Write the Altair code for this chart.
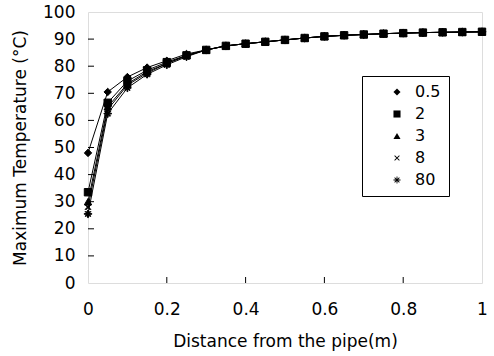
import altair as alt
import pandas as pd

distance = [0, 0.05, 0.1, 0.15, 0.2, 0.25, 0.3, 0.35, 0.4, 0.45, 0.5,
            0.55, 0.6, 0.65, 0.7, 0.75, 0.8, 0.85, 0.9, 0.95, 1.0]
tail = [86.0, 87.5, 88.3, 89.0, 89.7, 90.4, 91.0, 91.4, 91.7, 92.0,
        92.2, 92.4, 92.5, 92.6, 92.7]
t_05 = [48.0, 70.5, 76.0, 79.5, 82.0, 84.5] + tail
t_2 = [33.5, 66.5, 74.5, 78.5, 81.5, 84.0] + tail
t_3 = [30.0, 65.0, 73.5, 78.0, 81.0, 84.0] + tail
t_8 = [28.0, 64.0, 73.0, 77.5, 81.0, 83.8] + tail
t_80 = [25.5, 62.5, 72.0, 77.0, 80.5, 83.5] + tail

series_names = ["0.5", "2", "3", "8", "80"]
series_vals = [t_05, t_2, t_3, t_8, t_80]

x_labels = [0, 0.2, 0.4, 0.6, 0.8, 1]
y_labels = [0, 10, 20, 30, 40, 50, 60, 70, 80, 90, 100]
x_ticks = [0.2, 0.4, 0.6, 0.8]
y_ticks = [10, 20, 30, 40, 50, 60, 70, 80, 90]

rows = []
for name, vals in zip(series_names, series_vals):
    for d, v in zip(distance, vals):
        rows.append({"series": name, "distance": d, "temp": v})
df = pd.DataFrame(rows)

W, H = 394, 271
FONT = "DejaVu Sans"
FS = 17

X_SHAPE = ("M-0.6,-0.76L0.76,0.6L0.6,0.76L-0.76,-0.6Z"
           "M0.76,-0.6L-0.6,0.76L-0.76,0.6L0.6,-0.76Z")
STAR_SHAPE = ("M-1,-0.12L1,-0.12L1,0.12L-1,0.12Z"
              "M0.12,-1L0.12,1L-0.12,1L-0.12,-1Z"
              "M-0.6,-0.76L0.76,0.6L0.6,0.76L-0.76,-0.6Z"
              "M0.76,-0.6L-0.6,0.76L-0.76,0.6L0.6,-0.76Z")
shapes = ["diamond", "square", "triangle-up", X_SHAPE, STAR_SHAPE]

x_axis = alt.Axis(title="Distance from the pipe(m)", values=x_labels,
                  format="~g", grid=False, ticks=False, domain=False,
                  labelPadding=18, titlePadding=16, labelFontSize=FS,
                  titleFontSize=FS, titleFontWeight="normal",
                  labelFont=FONT, titleFont=FONT, labelColor="black",
                  titleColor="black", labelFlush=False, labelOverlap=False)
y_axis = alt.Axis(title="Maximum Temperature (°C)", values=y_labels,
                  grid=False, ticks=False, domain=False,
                  labelPadding=13, titlePadding=13, labelFontSize=FS,
                  titleFontSize=FS, titleFontWeight="normal",
                  labelFont=FONT, titleFont=FONT, labelColor="black",
                  titleColor="black", labelFlush=False, labelOverlap=False)
x_scale = alt.Scale(domain=[0, 1], nice=False)
y_scale = alt.Scale(domain=[0, 100], nice=False)

lines = alt.Chart(df).mark_line(color="black", strokeWidth=1).encode(
    x=alt.X("distance:Q", scale=x_scale, axis=x_axis),
    y=alt.Y("temp:Q", scale=y_scale, axis=y_axis),
    detail="series:N")

points = alt.Chart(df).mark_point(filled=True, opacity=1, size=55).encode(
    x=alt.X("distance:Q", scale=x_scale, axis=x_axis),
    y=alt.Y("temp:Q", scale=y_scale, axis=y_axis),
    stroke=alt.value("black"),
    fill=alt.value("black"),
    strokeWidth=alt.value(1),
    shape=alt.Shape("series:N", sort=series_names,
                    scale=alt.Scale(domain=series_names, range=shapes),
                    legend=alt.Legend(title=None, orient="none", legendX=274, legendY=64,
                                      strokeColor="black", fillColor="white",
                                      padding=8, labelFontSize=16, labelFont=FONT,
                                      labelColor="black", symbolSize=50,
                                      symbolFillColor="black", symbolStrokeColor="black",
                                      symbolStrokeWidth=1, rowPadding=6,
                                      symbolOffset=19, labelOffset=10,
                                      labelExpr="datum.label + '\u00a0\u00a0\u00a0\u00a0\u00a0'")))

xt = alt.Chart(pd.DataFrame({"v": x_ticks})).mark_rule(color="black", strokeWidth=1).encode(
    x=alt.X("v:Q", scale=x_scale, axis=x_axis), y=alt.value(H), y2=alt.value(H - 6))
yt = alt.Chart(pd.DataFrame({"v": y_ticks})).mark_rule(color="black", strokeWidth=1).encode(
    y=alt.Y("v:Q", scale=y_scale, axis=y_axis), x=alt.value(0), x2=alt.value(6))

chart = alt.layer(lines, points, xt, yt).properties(
    width=W, height=H,
    autosize=alt.AutoSizeParams(type="none"),
    padding={"left": 88, "top": 12, "right": 12, "bottom": 73},
).configure_view(stroke="black", strokeWidth=1.5).configure(background="white")

chart.save("out.html", embed_options={"renderer": "svg", "actions": False})
